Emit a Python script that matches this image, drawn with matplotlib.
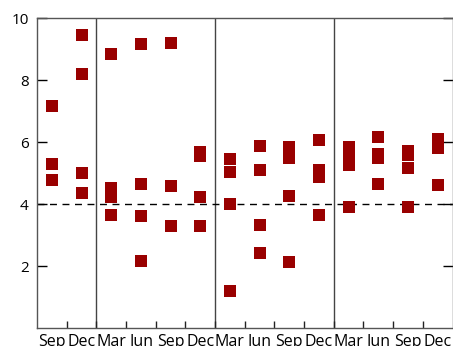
import matplotlib

matplotlib.use("Agg")
import matplotlib.pyplot as plt
import numpy as np

plt.rcParams["font.family"] = ["Open Sans", "DejaVu Sans"]

# quarters shown along the x axis (Sep of year 1 .. Dec of year 4)
QUARTERS = ["Sep", "Dec", "Mar", "Jun", "Sep", "Dec",
            "Mar", "Jun", "Sep", "Dec", "Mar", "Jun", "Sep", "Dec"]
YEAR_BREAKS = [2, 6, 10]          # quarter boundaries where a new year starts
REFERENCE = 4.0

# values read per quarter
VALUES = [
    [7.17, 5.30, 4.76],                    # Sep
    [9.46, 8.20, 5.01, 4.37],              # Dec
    [8.85, 4.52, 4.22, 3.66],              # Mar
    [9.17, 4.66, 3.62, 2.17],              # Jun
    [9.20, 4.59, 3.30],                    # Sep
    [5.68, 5.56, 4.23, 3.30],              # Dec
    [5.46, 5.04, 4.01, 1.20],              # Mar
    [5.88, 5.11, 3.33, 2.43],              # Jun
    [5.84, 5.49, 4.27, 2.14],              # Sep
    [6.07, 5.10, 4.88, 3.66],              # Dec
    [5.84, 5.55, 5.27, 3.91],              # Mar
    [6.17, 5.61, 5.49, 4.66],              # Jun
    [5.71, 5.59, 5.17, 3.91],              # Sep
    [6.10, 5.82, 4.62],                    # Dec
]

xs = np.concatenate([np.full(len(v), i + 0.5) for i, v in enumerate(VALUES)])
ys = np.concatenate([np.array(v) for v in VALUES])

fig = plt.figure(figsize=(4.53, 3.46), dpi=100)
ax = fig.add_axes([37 / 453, 18 / 346, 415.5 / 453, 310 / 346])

ax.plot(xs, ys, "s", color="#990000", markersize=8.6, markeredgewidth=0, zorder=3)
ax.axhline(REFERENCE, color="black", lw=1, ls=(0, (5, 4)), zorder=2)
for b in YEAR_BREAKS:
    ax.axvline(b, color="#444444", lw=1, zorder=1)

ax.set_xlim(0, len(QUARTERS))
ax.set_ylim(0, 10)

ax.set_xticks(np.arange(1, len(QUARTERS)))
ax.set_xticklabels([])
ax.set_xticks(np.arange(len(QUARTERS)) + 0.5, minor=True)
ax.set_xticklabels(QUARTERS, minor=True, fontsize=11.5)
ax.tick_params(axis="x", which="major", direction="in", length=5, width=1, color="#222222")
ax.tick_params(axis="x", which="minor", length=0, pad=4)

ax.set_yticks([2, 4, 6, 8, 10])
ax.tick_params(axis="y", direction="in", length=7, width=1, right=True,
               labelsize=11, pad=6)

for s in ax.spines.values():
    s.set_color("#555555")
    s.set_linewidth(1)

fig.savefig("out.png", dpi=100)
